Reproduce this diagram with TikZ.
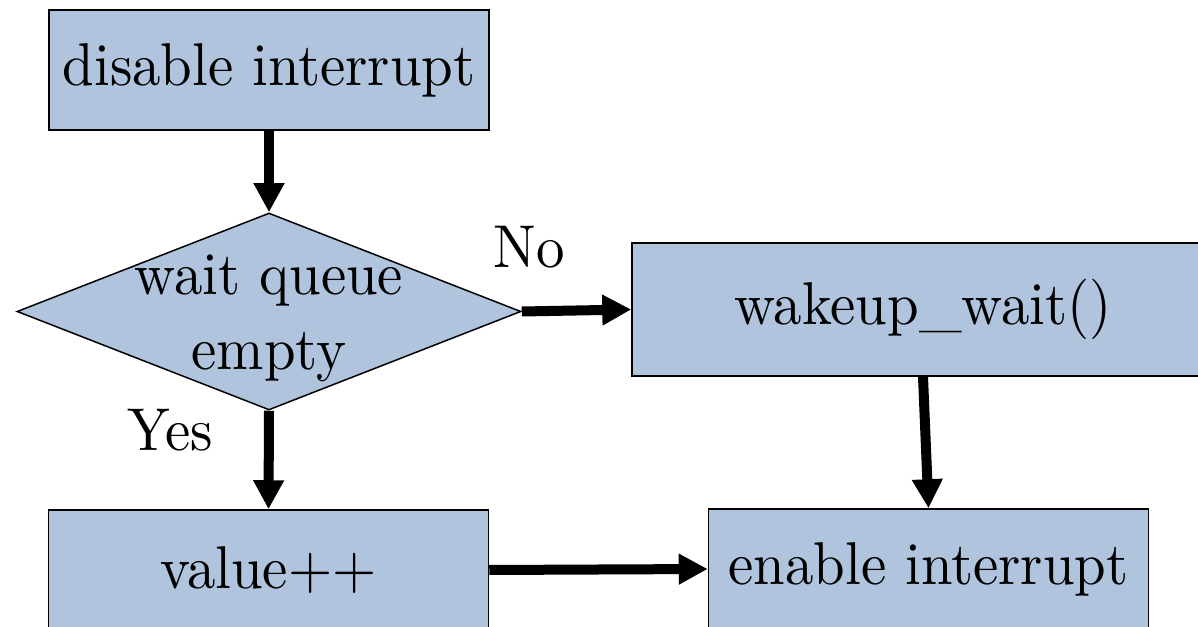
\documentclass[tikz,border=0pt]{standalone}
\usepackage{fontspec}
\setmainfont{lmroman10-regular}[Extension=.otf,FakeStretch=0.94]
\usetikzlibrary{arrows.meta,shapes.geometric}
\definecolor{boxfill}{RGB}{176,196,222}
\tikzset{
  stepbox/.style={draw=black,line width=0.03cm,fill=boxfill,rectangle,
    inner sep=0pt,minimum width=8.8cm,minimum height=2.4cm},
  decision/.style={draw=black,line width=0.03cm,fill=boxfill,diamond,
    inner sep=0pt,minimum width=10.08cm,minimum height=3.94cm},
  flow/.style={line width=0.2cm,-{Triangle[length=0.58cm,width=0.58cm]}},
}
\begin{document}
\begin{tikzpicture}[font=\fontsize{34.4}{42.5}\selectfont]
      \useasboundingbox (0,0) rectangle (23.96,-12.54);
      \draw
        (5.38,-1.40) node[stepbox] (disable){disable interrupt}
        (5.38,-6.23) node[decision] (empty){}
        (18.46,-6.19) node[stepbox,minimum width=11.64cm,minimum height=2.66cm] (wakeup){wakeup\_wait()}
        (5.37,-11.40) node[stepbox] (value){value++}
        (18.57,-11.38) node[stepbox] (enable){enable interrupt};
      \node[align=center,inner sep=0pt] (emptytext) at ([yshift=-0.14cm]empty.center) {wait queue\\empty};
      \node (no) at (10.58,-4.94) {No};
      \node (yes) at (3.40,-8.60) {Yes};
      \begin{scope}[flow]
        \draw (disable) to (empty);
        \draw (empty.east) to (wakeup.west);
        \draw (empty.south) to (value.north);
        \draw (wakeup.south) to (enable.north);
        \draw (value.east) to (enable.west);
      \end{scope}
    \end{tikzpicture}
\end{document}
